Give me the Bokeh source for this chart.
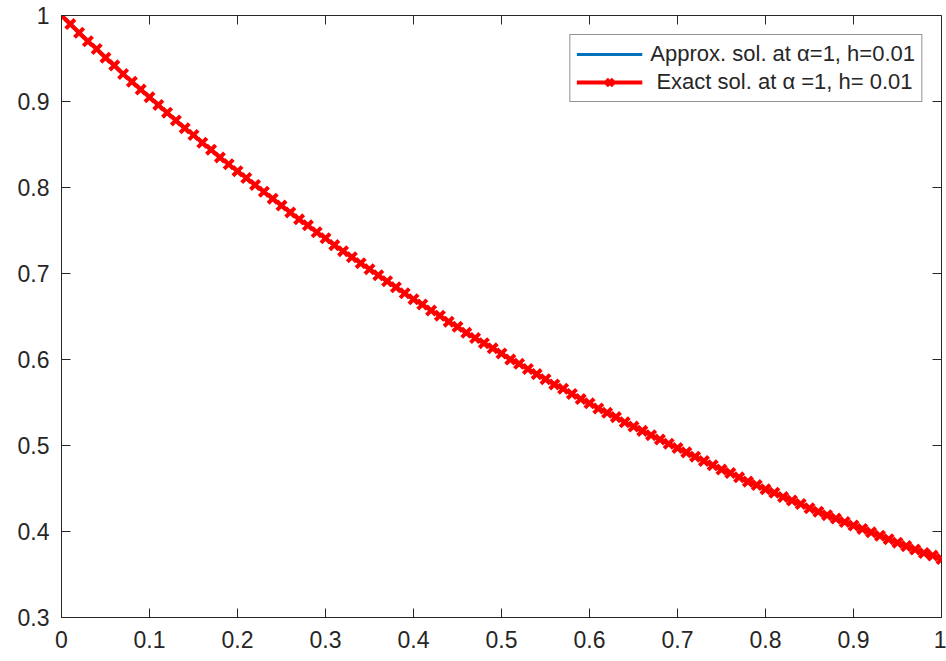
import math
from bokeh.plotting import figure
from bokeh.models import Range1d, FixedTicker, Legend, LegendItem
from bokeh.embed import file_html
from bokeh.resources import INLINE

t_values = [0.00, 0.01, 0.02, 0.03, 0.04, 0.05, 0.06, 0.07, 0.08, 0.09,
            0.10, 0.11, 0.12, 0.13, 0.14, 0.15, 0.16, 0.17, 0.18, 0.19,
            0.20, 0.21, 0.22, 0.23, 0.24, 0.25, 0.26, 0.27, 0.28, 0.29,
            0.30, 0.31, 0.32, 0.33, 0.34, 0.35, 0.36, 0.37, 0.38, 0.39,
            0.40, 0.41, 0.42, 0.43, 0.44, 0.45, 0.46, 0.47, 0.48, 0.49,
            0.50, 0.51, 0.52, 0.53, 0.54, 0.55, 0.56, 0.57, 0.58, 0.59,
            0.60, 0.61, 0.62, 0.63, 0.64, 0.65, 0.66, 0.67, 0.68, 0.69,
            0.70, 0.71, 0.72, 0.73, 0.74, 0.75, 0.76, 0.77, 0.78, 0.79,
            0.80, 0.81, 0.82, 0.83, 0.84, 0.85, 0.86, 0.87, 0.88, 0.89,
            0.90, 0.91, 0.92, 0.93, 0.94, 0.95, 0.96, 0.97, 0.98, 0.99, 1.00]

exact_sol = [1.000, 0.990, 0.980, 0.970, 0.961, 0.951, 0.942, 0.932, 0.923, 0.914,
             0.905, 0.896, 0.887, 0.878, 0.869, 0.861, 0.852, 0.844, 0.835, 0.827,
             0.819, 0.811, 0.803, 0.795, 0.787, 0.779, 0.771, 0.763, 0.756, 0.748,
             0.741, 0.733, 0.726, 0.719, 0.712, 0.705, 0.698, 0.691, 0.684, 0.677,
             0.670, 0.664, 0.657, 0.651, 0.644, 0.638, 0.631, 0.625, 0.619, 0.613,
             0.607, 0.600, 0.595, 0.589, 0.583, 0.577, 0.571, 0.566, 0.560, 0.554,
             0.549, 0.543, 0.538, 0.533, 0.527, 0.522, 0.517, 0.512, 0.507, 0.502,
             0.497, 0.492, 0.487, 0.482, 0.477, 0.472, 0.468, 0.463, 0.458, 0.454,
             0.449, 0.445, 0.440, 0.436, 0.432, 0.427, 0.423, 0.419, 0.415, 0.411,
             0.407, 0.403, 0.399, 0.395, 0.391, 0.387, 0.383, 0.379, 0.375, 0.372, 0.368]

approx_sol = list(exact_sol)

x_ticks = [0, 0.1, 0.2, 0.3, 0.4, 0.5, 0.6, 0.7, 0.8, 0.9, 1.0]
x_tick_labels = ["0", "0.1", "0.2", "0.3", "0.4", "0.5", "0.6", "0.7", "0.8", "0.9", "1"]
y_ticks = [0.3, 0.4, 0.5, 0.6, 0.7, 0.8, 0.9, 1.0]
y_tick_labels = ["0.3", "0.4", "0.5", "0.6", "0.7", "0.8", "0.9", "1"]

legend_labels = ["Approx. sol. at \u03b1=1, h=0.01", " Exact sol. at \u03b1 =1, h= 0.01"]

FONT = "Liberation Sans"
AX = "#262626"

p = figure(width=946, height=661, output_backend="svg", toolbar_location=None,
           x_range=Range1d(0, 1), y_range=Range1d(0.3, 1.0),
           min_border_left=61, min_border_right=5, min_border_top=15, min_border_bottom=44)
p.background_fill_color = "white"
p.border_fill_color = "white"
p.grid.visible = False
p.outline_line_color = AX
p.outline_line_width = 1

for ax, ticks, labels in ((p.xaxis[0], x_ticks, x_tick_labels), (p.yaxis[0], y_ticks, y_tick_labels)):
    ax.ticker = FixedTicker(ticks=ticks)
    ax.major_label_overrides = {t: l for t, l in zip(ticks, labels)}
    ax.major_tick_in = 9
    ax.major_tick_out = 0
    ax.minor_tick_in = 0
    ax.minor_tick_out = 0
    ax.axis_line_color = AX
    ax.major_tick_line_color = AX
    ax.major_label_text_color = AX
    ax.major_label_text_font = FONT
    ax.major_label_text_font_size = "23px"
p.xaxis[0].major_label_standoff = 13
p.yaxis[0].major_label_standoff = 12

# inward ticks on the top and right edges of the box
p.ray(x=x_ticks, y=[1.0] * len(x_ticks), length=9, length_units="screen",
      angle=-math.pi / 2, line_color=AX, line_width=1)
p.ray(x=[1.0] * len(y_ticks), y=y_ticks, length=9, length_units="screen",
      angle=math.pi, line_color=AX, line_width=1)

r_approx = p.line(t_values, approx_sol, line_color="#0072BD", line_width=3)
r_exact_line = p.line(t_values, exact_sol, line_color="#FF0000", line_width=4)
r_exact_pts = p.scatter(t_values, exact_sol, marker="x", size=13, line_color="#FF0000", line_width=4)

legend = Legend(items=[LegendItem(label=legend_labels[0], renderers=[r_approx]),
                       LegendItem(label=legend_labels[1], renderers=[r_exact_line, r_exact_pts])],
                location="top_right")
legend.margin = 19
legend.padding = 6
legend.spacing = 2
legend.glyph_width = 66
legend.glyph_height = 24
legend.label_height = 24
legend.label_standoff = 8
legend.label_text_font = FONT
legend.label_text_font_size = "22px"
legend.label_text_color = AX
legend.border_line_color = AX
legend.border_line_width = 1
legend.background_fill_color = "white"
legend.background_fill_alpha = 1
p.add_layout(legend, "center")

open("out.html", "w").write(file_html(p, INLINE))
